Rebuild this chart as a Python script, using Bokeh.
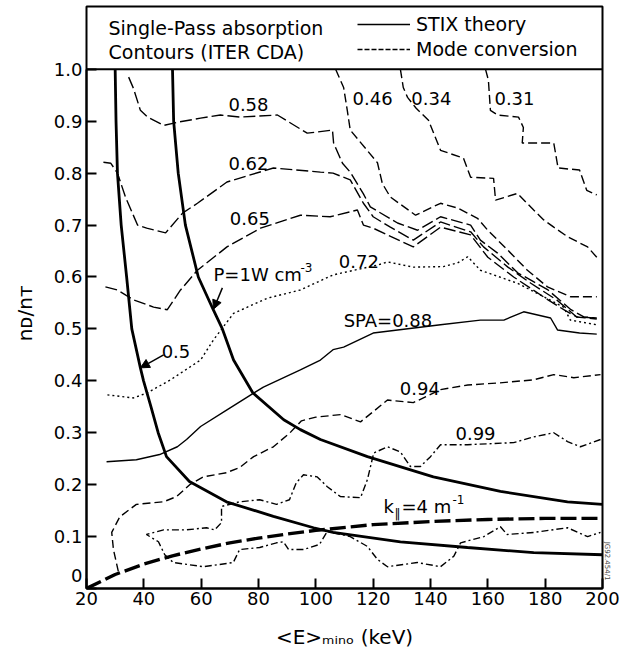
from bokeh.plotting import figure
from bokeh.models import (Range1d, FixedTicker, Label, Legend, LegendItem, Span,
                          Arrow, NormalHead, Title)
from bokeh.embed import file_html
from bokeh.resources import INLINE

FONT = "DejaVu Sans"

# ---------------- data ----------------
# STIX theory, P = 1 W cm^-3 (left and right solid curves)
stix_low_E = [30, 30.3, 30.8, 32.1, 34, 35.8, 38.8, 39.9, 42.5, 45, 47.9, 55.9, 68.8, 85.2, 99.2, 106, 129.5, 152.9, 176, 200]
stix_low_v = [1.0, 0.9, 0.8, 0.7, 0.6, 0.5, 0.425, 0.4, 0.35, 0.3, 0.254, 0.206, 0.167, 0.139, 0.117, 0.108, 0.09, 0.079, 0.069, 0.065]
stix_high_E = [50, 50.4, 52, 54.5, 59, 64.3, 67.4, 71.3, 78, 88.8, 94.6, 101.6, 118, 141, 164.4, 187.8, 200]
stix_high_v = [1.0, 0.9, 0.8, 0.7, 0.6, 0.536, 0.5, 0.44, 0.377, 0.325, 0.306, 0.287, 0.254, 0.215, 0.187, 0.167, 0.162]

# k_par = 4 m^-1 boundary (thick long dashes)
kpar_E = [20, 30, 40, 50, 60, 70, 80, 90, 100, 120, 140, 160, 180, 200]
kpar_v = [0.0, 0.027, 0.047, 0.063, 0.076, 0.088, 0.097, 0.105, 0.112, 0.123, 0.129, 0.133, 0.135, 0.135]

# single-pass absorption contours
c058_E = [34.7, 36.4, 38.8, 41.3, 47, 51.7, 59.8, 66.7, 73.7, 86.6, 97, 105.8, 106.2, 109.3, 112, 116.6, 119, 128.5, 135.5, 143.5, 154, 157.4, 163.4, 170.4, 175, 181, 189, 193.5, 198]
c058_v = [0.985, 0.963, 0.921, 0.908, 0.892, 0.898, 0.906, 0.912, 0.908, 0.912, 0.877, 0.883, 0.858, 0.819, 0.802, 0.76, 0.735, 0.704, 0.69, 0.716, 0.70, 0.671, 0.646, 0.608, 0.594, 0.575, 0.537, 0.523, 0.521]
c062_E = [25.9, 28.5, 30.8, 33.6, 37.8, 41, 47.6, 53.5, 58.7, 69, 85.2, 101.6, 106, 112, 116.6, 120, 126, 134, 143.5, 154, 158.5, 167, 175, 184, 191, 198]
c062_v = [0.821, 0.819, 0.8, 0.754, 0.70, 0.694, 0.685, 0.723, 0.742, 0.783, 0.81, 0.802, 0.8, 0.787, 0.742, 0.716, 0.696, 0.671, 0.706, 0.687, 0.658, 0.619, 0.588, 0.556, 0.523, 0.521]
c065_E = [26.6, 30.8, 36.4, 43.4, 48.2, 52.8, 58.7, 69, 80.7, 94.6, 105, 114.5, 116.6, 120, 134, 143.5, 154, 160, 169, 181, 186.5, 191, 198]
c065_v = [0.581, 0.575, 0.556, 0.542, 0.537, 0.575, 0.613, 0.658, 0.694, 0.719, 0.716, 0.729, 0.70, 0.694, 0.658, 0.696, 0.681, 0.638, 0.60, 0.556, 0.537, 0.523, 0.519]
c046_E = [106.9, 109.7, 111, 112, 121.5, 123.2, 126, 134.8, 143.5, 149.4, 156.4, 160, 166.9, 173.8, 180.8, 188.8, 198]
c046_v = [1.0, 0.965, 0.92, 0.883, 0.82, 0.78, 0.754, 0.719, 0.742, 0.733, 0.713, 0.69, 0.652, 0.613, 0.581, 0.562, 0.562]
c034_E = [129.5, 130.5, 132, 135, 139.3, 143.5, 151.5, 154, 162, 162.7, 170.3, 176, 179.5, 183, 188, 194.8, 198]
c034_v = [1.0, 0.965, 0.946, 0.925, 0.902, 0.844, 0.829, 0.792, 0.79, 0.748, 0.761, 0.729, 0.71, 0.696, 0.677, 0.658, 0.638]
c031_E = [159.2, 160.2, 160.9, 163.4, 170.7, 172.4, 172, 183, 184.5, 192, 194.5, 198]
c031_v = [1.0, 0.979, 0.921, 0.912, 0.908, 0.888, 0.858, 0.858, 0.81, 0.806, 0.767, 0.758]
c072_E = [27.3, 36.4, 41.3, 49.3, 59.8, 64.3, 71.3, 83, 94.6, 106, 121.5, 125, 134, 144.5, 149.4, 153, 157.4, 170.3, 179.5, 186.4, 188.8, 198]
c072_v = [0.373, 0.367, 0.377, 0.402, 0.44, 0.479, 0.53, 0.559, 0.575, 0.604, 0.623, 0.629, 0.619, 0.62, 0.627, 0.639, 0.613, 0.588, 0.562, 0.542, 0.517, 0.508]
c088_E = [27, 37.4, 45.5, 51.7, 54.9, 59.8, 69, 81.7, 94.6, 101.6, 106, 109.7, 120, 143.5, 157.4, 165.6, 172.5, 181.9, 184.3, 192, 198]
c088_v = [0.244, 0.248, 0.258, 0.273, 0.287, 0.312, 0.344, 0.388, 0.421, 0.44, 0.46, 0.465, 0.492, 0.508, 0.517, 0.517, 0.533, 0.521, 0.498, 0.492, 0.49]
c094_E = [31.1, 29.4, 28.8, 31.6, 37.4, 46.9, 51.4, 56, 60.8, 68.8, 73.4, 78.3, 85.2, 91, 95, 100, 108.6, 115.6, 125, 134, 143.5, 153, 164, 176, 183, 190, 199.3]
c094_v = [0.033, 0.075, 0.108, 0.138, 0.162, 0.167, 0.177, 0.2, 0.215, 0.223, 0.233, 0.254, 0.273, 0.3, 0.323, 0.33, 0.335, 0.321, 0.363, 0.358, 0.383, 0.392, 0.396, 0.402, 0.412, 0.406, 0.412]
c099_E = [199.3, 192.3, 187.8, 183, 176, 169, 152.9, 143.5, 140, 136.5, 133, 129.5, 125, 120.2, 118, 115.6, 108.6, 104, 100.5, 95.7, 93.2, 90.8, 86.3, 80.4, 73.4, 67.1, 67.1, 64.7, 61.9, 54.9, 46.9, 40.9,
          45.1, 47.3, 50.3, 60.8, 71.2, 73.4, 80.4, 86.3, 88.7, 90.5, 95.7, 101.3, 104, 112, 118, 121.5, 125, 135.4, 143.5, 148.1, 150.5, 158.6, 164.4, 166.7, 176, 187.8, 194.8, 199.3]
c099_v = [0.287, 0.273, 0.283, 0.3, 0.292, 0.281, 0.277, 0.277, 0.254, 0.235, 0.235, 0.263, 0.273, 0.261, 0.21, 0.175, 0.177, 0.196, 0.215, 0.219, 0.204, 0.171, 0.162, 0.171, 0.167, 0.158, 0.127, 0.113, 0.117, 0.113, 0.113, 0.104,
          0.09, 0.065, 0.05, 0.042, 0.05, 0.075, 0.079, 0.088, 0.09, 0.075, 0.075, 0.085, 0.11, 0.1, 0.081, 0.056, 0.042, 0.05, 0.042, 0.062, 0.088, 0.1, 0.119, 0.104, 0.108, 0.117, 0.1, 0.108]

# contour labels: (text, E, n_D/n_T, alignment)
contour_labels = [("0.58", 76.5, 0.932, "center"), ("0.62", 76.5, 0.818, "center"),
                  ("0.65", 77.0, 0.712, "center"), ("0.46", 112.8, 0.943, "left"),
                  ("0.34", 133.3, 0.943, "left"), ("0.31", 162.3, 0.943, "left"),
                  ("0.72", 115.0, 0.630, "center"), ("0.94", 136.3, 0.385, "center"),
                  ("0.99", 155.7, 0.299, "center")]

x_ticks = [20, 40, 60, 80, 100, 120, 140, 160, 180, 200]
y_ticks = [0, 0.1, 0.2, 0.3, 0.4, 0.5, 0.6, 0.7, 0.8, 0.9, 1.0]
y_tick_labels = ["0\n\u00a0", "0.1", "0.2", "0.3", "0.4", "0.5", "0.6", "0.7", "0.8", "0.9", "1.0"]

# frame: x 86..602 px, y 6..589 px; the band above n_D/n_T = 1 holds the caption
Y_TOP = 1.121

p = figure(width=629, height=651, x_range=Range1d(20, 200), y_range=Range1d(0, Y_TOP),
           output_backend="svg", toolbar_location=None,
           min_border_left=86, min_border_right=27, min_border_top=6, min_border_bottom=62,
           x_axis_label="<E>\u2098\u1d62\u2099\u2092 (keV)",
           y_axis_label="n\u1d05/n\u1d1b" + "\u00a0" * 5)
p.outline_line_color = "black"
p.outline_line_width = 2
p.xgrid.visible = False
p.ygrid.visible = False

for ax in (p.xaxis[0], p.yaxis[0]):
    ax.axis_line_width = 2
    ax.major_tick_in = 10
    ax.major_tick_out = 0
    ax.major_tick_line_width = 2
    ax.minor_tick_line_color = None
    ax.major_label_text_font = FONT
    ax.major_label_text_font_size = "18px"
    ax.major_label_text_color = "black"
    ax.axis_label_text_font = FONT
    ax.axis_label_text_font_size = "20px"
    ax.axis_label_text_font_style = "normal"
    ax.axis_label_text_color = "black"

p.yaxis.bounds = (0, 1)
p.xaxis.ticker = FixedTicker(ticks=x_ticks)
p.yaxis.ticker = FixedTicker(ticks=y_ticks)
p.yaxis.major_label_overrides = {t: l for t, l in zip(y_ticks, y_tick_labels)}
p.xaxis.major_label_overrides = {t: str(t) for t in x_ticks}
p.yaxis.major_label_standoff = 4
p.xaxis.major_label_standoff = 3
p.xaxis.axis_label_standoff = 17
p.yaxis.axis_label_standoff = 14

# bottom edge of the caption box
p.add_layout(Span(location=1.0, dimension="width", line_color="black", line_width=2))

# contours
thin = 1.4
p.line(c058_E, c058_v, line_color="black", line_width=thin, line_dash="12 4")
p.line(c062_E, c062_v, line_color="black", line_width=thin, line_dash="12 4")
p.line(c065_E, c065_v, line_color="black", line_width=thin, line_dash="12 4")
p.line(c046_E, c046_v, line_color="black", line_width=thin, line_dash="9 4")
p.line(c034_E, c034_v, line_color="black", line_width=thin, line_dash="9 4")
p.line(c031_E, c031_v, line_color="black", line_width=thin, line_dash="9 4")
p.line(c072_E, c072_v, line_color="black", line_width=thin, line_dash="2 3")
p.line(c088_E, c088_v, line_color="black", line_width=thin)
p.line(c094_E, c094_v, line_color="black", line_width=thin, line_dash="8 4")
p.line(c099_E, c099_v, line_color="black", line_width=thin, line_dash="7 3 2 3")

# STIX curves and k_par boundary
p.line(stix_low_E, stix_low_v, line_color="black", line_width=2.8)
p.line(stix_high_E, stix_high_v, line_color="black", line_width=2.8)
p.line(kpar_E, kpar_v, line_color="black", line_width=3.4, line_dash="16 5")

# legend in the caption box
nan = float("nan")
r_solid = p.line([nan], [nan], line_color="black", line_width=1.6)
r_dash = p.line([nan], [nan], line_color="black", line_width=1.4, line_dash="5 2")
legend = Legend(items=[LegendItem(label="STIX theory", renderers=[r_solid]),
                       LegendItem(label="Mode conversion", renderers=[r_dash])],
                location=(271, 527), orientation="vertical",
                label_text_font=FONT, label_text_font_size="19px", label_text_color="black",
                glyph_width=53, glyph_height=24, label_height=24, label_standoff=6,
                spacing=1, padding=0, margin=0,
                border_line_alpha=0, background_fill_alpha=0)
p.add_layout(legend)

def px2E(px):
    return 20 + (px - 86) / (516 / 180)

def py2v(py):
    return (589 - py) / (583 / Y_TOP)

def lab(text, E, v, size="18px", align="center", baseline="middle", angle=0.0, style="normal"):
    p.add_layout(Label(x=E, y=v, text=text, text_font=FONT, text_font_size=size,
                       text_align=align, text_baseline=baseline, angle=angle,
                       text_font_style=style, text_color="black"))

lab("Single-Pass absorption", px2E(108), py2v(28), size="19px", align="left")
lab("Contours (ITER CDA)", px2E(108), py2v(52), size="19px", align="left")

for t, E, v, al in contour_labels:
    lab(t, E, v, align=al)

lab("SPA=0.88", 109.7, 0.517, align="left")
lab("0.5", 51.2, 0.457)
lab("P=1W cm", 64.3, 0.605, align="left")
lab("-3", px2E(300), py2v(267), size="12px", align="left")
lab("k", 123.6, 0.158, align="left")
lab("\u2016", px2E(394), py2v(514), size="12px", align="left")
lab("=4 m", px2E(401), 0.158, align="left")
lab("-1", px2E(452), py2v(500), size="12px", align="left")

# arrows
p.add_layout(Arrow(end=NormalHead(size=9, fill_color="black", line_color="black"),
                   x_start=46.9, y_start=0.45, x_end=38.8, y_end=0.425, line_width=1.5))
p.add_layout(Arrow(end=NormalHead(size=9, fill_color="black", line_color="black"),
                   x_start=67.4, y_start=0.579, x_end=64.3, y_end=0.538, line_width=1.5))

# figure reference code at the right edge
p.add_layout(Title(text="JG92.454/1", text_font=FONT, text_font_size="7px",
                   text_font_style="normal", align="right", offset=8, standoff=0), "right")

open("out.html", "w").write(file_html(p, INLINE))
